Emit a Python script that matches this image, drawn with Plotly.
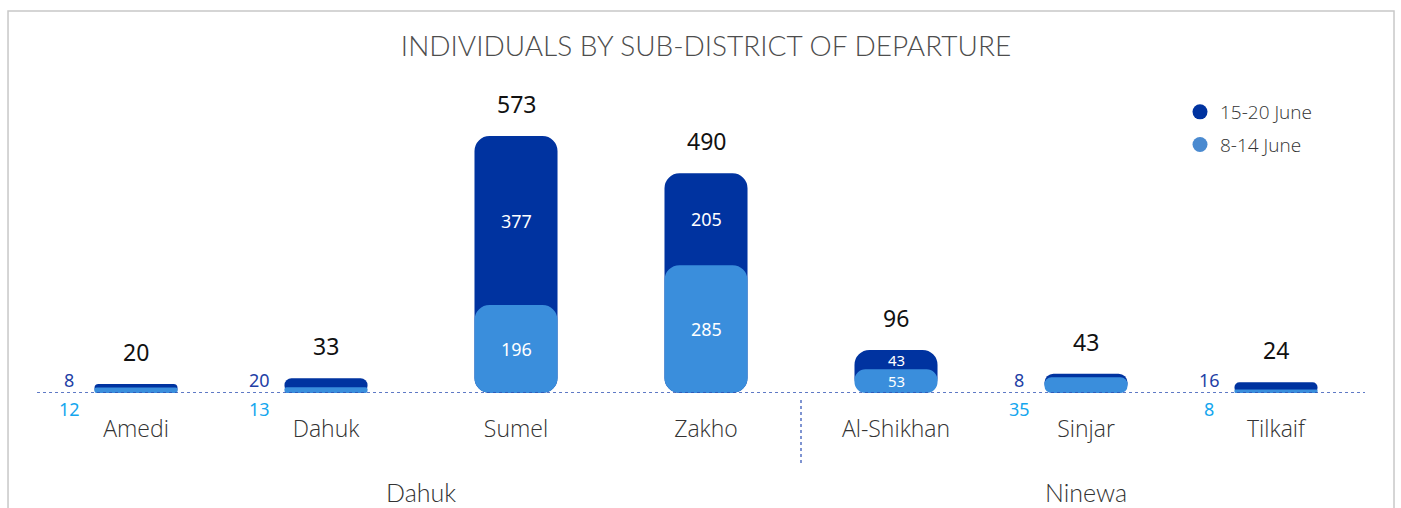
import plotly.graph_objects as go

# ---- data ----
categories = ["Amedi", "Dahuk", "Sumel", "Zakho", "Al-Shikhan", "Sinjar", "Tilkaif"]
groups = ["Dahuk", "Dahuk", "Dahuk", "Dahuk", "Ninewa", "Ninewa", "Ninewa"]
june_8_14 = [12, 13, 196, 285, 53, 35, 8]
june_15_20 = [8, 20, 377, 205, 43, 8, 16]
series_names = ["15-20 June", "8-14 June"]

DARK = "#0033a0"
LIGHT = "#3a8edc"
LIGHT_TXT = "#14a6ee"
DARK_TXT = "#1f3fa6"

totals = [a + b for a, b in zip(june_8_14, june_15_20)]
idx = list(range(len(categories)))
YMAX = max(totals) * 1.218

fig = go.Figure()

R = 15
BW = 0.437

# dark bar spans the whole total, the light bar is drawn over it from the baseline
for vals, col in [(totals, DARK), (june_8_14, LIGHT)]:
    fig.add_trace(go.Bar(x=idx, y=vals, base=[0] * len(vals),
                         marker=dict(color=col, cornerradius=R, line=dict(width=0)),
                         showlegend=False, hoverinfo="skip", width=BW))

# legend entries
for name, col in zip(series_names, [DARK, "#4a8ad0"]):
    fig.add_trace(go.Scatter(x=[None], y=[None], mode="markers", name=name, legendgroup=name,
                             marker=dict(symbol="circle", size=15, color=col)))

annotations = []
THRESH = 60
for i, (a, b, t) in enumerate(zip(june_8_14, june_15_20, totals)):
    annotations.append(dict(x=i, y=t, text=str(t), showarrow=False, yanchor="bottom", yshift=14,
                            font=dict(size=23, color="#111111", family="Noto Sans")))
    if t >= THRESH:
        fs = 18 if min(a, b) >= 100 else 15
        annotations.append(dict(x=i, y=a + b / 2, text=str(b), showarrow=False, yanchor="middle", borderpad=0,
                                font=dict(size=fs, color="white", family="Noto Sans")))
        annotations.append(dict(x=i, y=a / 2, text=str(a), showarrow=False, yanchor="middle", borderpad=0,
                                font=dict(size=fs, color="white", family="Noto Sans")))
    else:
        annotations.append(dict(x=i, y=0, text=str(b), showarrow=False, yanchor="bottom", xshift=-67, yshift=-1,
                                font=dict(size=18, color=DARK_TXT, family="Noto Sans")))
        annotations.append(dict(x=i, y=0, text=str(a), showarrow=False, yanchor="top", xshift=-67, yshift=-2,
                                font=dict(size=18, color=LIGHT_TXT, family="Noto Sans")))

# group labels
group_names = []
for g in groups:
    if g not in group_names:
        group_names.append(g)
for g in group_names:
    members = [i for i, gg in enumerate(groups) if gg == g]
    annotations.append(dict(x=sum(members) / len(members), y=-0.315, yref="paper", text=g, showarrow=False,
                            yanchor="middle", font=dict(size=25, color="#333333", family="Lato", weight=300)))

shapes = []
for i in range(1, len(groups)):
    if groups[i] != groups[i - 1]:
        shapes.append(dict(type="line", xref="x", yref="paper", x0=i - 0.5, x1=i - 0.5, y0=-0.022, y1=-0.23,
                           line=dict(color="#2b4eb3", width=1.2, dash="dot")))
shapes.append(dict(type="line", xref="paper", yref="y", x0=-0.003, x1=0.9955, y0=0, y1=0,
                   line=dict(color="#2b4eb3", width=1.5, dash="dot")))
shapes.append(dict(type="rect", xref="paper", yref="paper", x0=-0.0248, x1=1.0173, y0=-0.6, y1=1.2204,
                   line=dict(color="#c8c8c8", width=1.5), fillcolor="rgba(0,0,0,0)", layer="below"))

hidden = dict(showgrid=False, zeroline=False, showticklabels=False, showline=False)

fig.update_layout(
    width=1401, height=508,
    margin=dict(l=41, r=30, t=80, b=115),
    paper_bgcolor="white", plot_bgcolor="white",
    barmode="overlay",
    title=dict(text="INDIVIDUALS BY SUB-DISTRICT OF DEPARTURE", x=0.5, xref="paper", xanchor="center",
               y=1 - 46 / 508, yref="container", yanchor="middle",
               font=dict(size=28, color="#4d4d4d", family="Lato", weight=300)),
    xaxis=dict(tickmode="array", tickvals=idx, ticktext=categories, range=[-0.5, len(categories) - 0.5],
               showgrid=False, zeroline=False, showline=False, ticks="",
               tickfont=dict(size=23, color="#333333", family="Open Sans", weight=300), ticklabelstandoff=20),
    yaxis=dict(range=[0, YMAX], **hidden),
    legend=dict(x=(1180 - 41) / 1330, xanchor="left", y=(393 - 93) / 313, yanchor="top",
                font=dict(size=19, color="#333333", family="Open Sans", weight=300), tracegroupgap=5,
                bgcolor="rgba(0,0,0,0)"),
    annotations=annotations,
    shapes=shapes,
    showlegend=True,
)

fig.write_html("out.html", config={"displayModeBar": False},
               post_script="document.body.style.margin='0px';")
